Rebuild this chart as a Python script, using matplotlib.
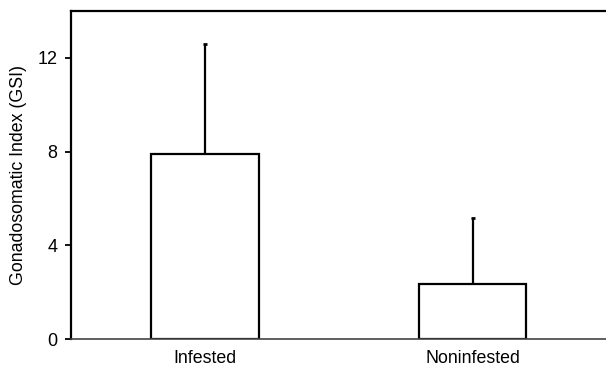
import matplotlib.pyplot as plt

plt.rcParams['font.family'] = ['Liberation Sans', 'DejaVu Sans']

groups = ["Infested", "Noninfested"]
gsi_mean = [7.9, 2.35]
gsi_err = [4.7, 2.8]

fig = plt.figure(figsize=(6.06, 3.69), dpi=100)
ax = fig.add_axes([0.1172, 0.0813, 0.8828 + 0.01, 0.889])

x = range(len(groups))
ax.bar(x, gsi_mean, width=0.4, color='white', edgecolor='black', linewidth=1.6, zorder=2)
ax.errorbar(x, gsi_mean, yerr=[[0, 0], gsi_err], fmt='none', ecolor='black',
            elinewidth=1.6, capsize=1.5, capthick=2, zorder=1)

ax.set_xlim(-0.5, 1.5 + 0.02)
ax.set_ylim(0, 14)
ax.set_yticks([0, 4, 8, 12])
ax.set_xticks(list(x))
ax.set_xticklabels(groups)
ax.tick_params(axis='x', length=0, labelsize=12.8, pad=8)
ax.tick_params(axis='y', length=4, width=1.3, labelsize=13, direction='out', pad=6)
ax.set_ylabel("Gonadosomatic Index (GSI)", fontsize=12.8, labelpad=7)

ax.spines['right'].set_visible(False)
ax.spines['left'].set_linewidth(1.6)
ax.spines['top'].set_linewidth(1.6)
ax.spines['bottom'].set_linewidth(1.2)
ax.spines['bottom'].set_color('#444444')

fig.savefig("out.png", dpi=100)
